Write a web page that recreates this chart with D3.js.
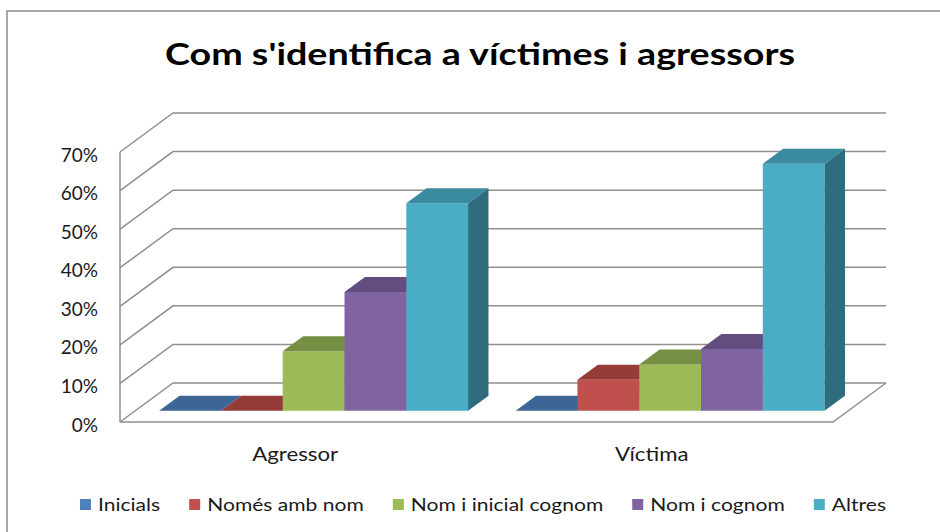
<!DOCTYPE html>
<html>
<head>
<meta charset="utf-8">
<script src="https://cdn.jsdelivr.net/npm/d3@7"></script>
<style>
  body { margin: 0; background: #fff; }
  text { font-family: Lato, "Liberation Sans", sans-serif; fill: #1a1a1a; }
</style>
</head>
<body>
<div id="chart"></div>
<script>
var categories = ["Agressor", "Víctima"];
var seriesNames = ["Inicials", "Només amb nom", "Nom i inicial cognom", "Nom i cognom", "Altres"];
var agressorValues = [0, 0, 0.154, 0.308, 0.538];
var victimaValues = [0, 0.08, 0.12, 0.16, 0.64];
var tickValues = [0, 0.1, 0.2, 0.3, 0.4, 0.5, 0.6, 0.7];
var titleText = "Com s'identifica a víctimes i agressors";

var frontColors = ["#4f81bd", "#c0504d", "#9bbb59", "#8064a2", "#4bacc6"];
var topColors = ["#3d6596", "#953b38", "#778f44", "#634d7e", "#3a8aa0"];
var sideColors = ["#33557e", "#7d312f", "#647838", "#53406a", "#2f6c7e"];

var width = 940, height = 532;
// 3d box: depth offset of the back wall relative to the front edge
var depth = { dx: 53, dy: -39 };
var barFront = 0.29, barBack = 0.675;
var textStretch = 1.17;

var svg = d3.select("#chart").append("svg")
    .attr("width", width)
    .attr("height", height);

var x0 = d3.scaleBand().domain(categories).range([120, 833]);
var x1 = d3.scaleBand().domain(seriesNames)
    .range([0, x0.bandwidth()])
    .paddingOuter(0.385)
    .paddingInner(0);
var y = d3.scaleLinear().domain([0, 0.7]).range([422, 152]);
var fmt = d3.format(".0%");

function pt(x, v, f) {
    return (x + f * depth.dx) + "," + (y(v) + f * depth.dy);
}

// chart border
svg.append("path")
    .attr("d", "M7," + height + "V11H" + width)
    .attr("fill", "none")
    .attr("stroke", "#8a8a8a")
    .attr("stroke-width", 1.5);

// title
svg.append("text")
    .attr("x", 480)
    .attr("y", 65)
    .attr("text-anchor", "middle")
    .style("font-size", "31px")
    .style("font-weight", "bold")
    .style("fill", "#000")
    .attr("textLength", 630)
    .attr("lengthAdjust", "spacingAndGlyphs")
    .text(titleText);

var xLeft = x0.range()[0], xRight = x0.range()[1];
var grid = svg.append("g")
    .attr("fill", "none")
    .attr("stroke", "#8f8f8f")
    .attr("stroke-width", 1.5);

// gridlines on the side wall and back wall
grid.selectAll(".grid")
    .data(tickValues).enter().append("polyline")
    .attr("class", "grid")
    .attr("points", function(d) {
        return pt(xLeft, d, 0) + " " + pt(xLeft, d, 1) + " " + pt(xRight, d, 1);
    });
// front left edge
grid.append("line")
    .attr("x1", xLeft).attr("y1", y(0))
    .attr("x2", xLeft).attr("y2", y(0.7));
// floor front and right edges
grid.append("polyline")
    .attr("points", pt(xLeft, 0, 0) + " " + pt(xRight, 0, 0) + " " + pt(xRight, 0, 1));

// y tick labels
svg.selectAll(".ytick")
    .data(tickValues).enter().append("text")
    .attr("class", "ytick")
    .attr("x", 98)
    .attr("y", function(d) { return y(d) + 9.5; })
    .attr("text-anchor", "end")
    .style("font-size", "19px")
    .text(function(d) { return fmt(d); });

// bars
var rows = [agressorValues, victimaValues];
var bars = [];
categories.forEach(function(c, ci) {
    seriesNames.forEach(function(s, si) {
        bars.push({ cat: c, series: s, index: si, value: rows[ci][si] });
    });
});

var barG = svg.selectAll(".bar")
    .data(bars).enter().append("g")
    .attr("class", "bar");

barG.each(function(d) {
    var g = d3.select(this);
    var xa = x0(d.cat) + x1(d.series);
    var xb = xa + x1.bandwidth();
    var v = d.value;
    if (v > 0) {
        g.append("polygon")
            .attr("points", [pt(xa, 0, barFront), pt(xb, 0, barFront), pt(xb, v, barFront), pt(xa, v, barFront)].join(" "))
            .attr("fill", frontColors[d.index]);
        g.append("polygon")
            .attr("points", [pt(xb, 0, barFront), pt(xb, 0, barBack), pt(xb, v, barBack), pt(xb, v, barFront)].join(" "))
            .attr("fill", sideColors[d.index]);
    }
    g.append("polygon")
        .attr("points", [pt(xa, v, barFront), pt(xb, v, barFront), pt(xb, v, barBack), pt(xa, v, barBack)].join(" "))
        .attr("fill", topColors[d.index]);
});

// category labels
svg.selectAll(".xlabel")
    .data(categories).enter().append("text")
    .attr("class", "xlabel")
    .attr("x", function(d) { return x0(d) + x0.bandwidth() / 2 - 3; })
    .attr("y", 461)
    .attr("text-anchor", "middle")
    .style("font-size", "19px")
    .text(function(d) { return d; })
    .each(function() {
        var w = this.getComputedTextLength();
        d3.select(this).attr("textLength", w * textStretch).attr("lengthAdjust", "spacingAndGlyphs");
    });

// legend
var legend = svg.append("g").attr("class", "legend");
var items = legend.selectAll(".item")
    .data(seriesNames).enter().append("g")
    .attr("class", "item");
items.append("rect")
    .attr("width", 11)
    .attr("height", 11)
    .attr("y", 499)
    .attr("fill", function(d, i) { return frontColors[i]; });
items.append("text")
    .attr("y", 511)
    .style("font-size", "18px")
    .text(function(d) { return d; })
    .each(function() {
        var w = this.getComputedTextLength() * textStretch;
        d3.select(this).attr("textLength", w).attr("lengthAdjust", "spacingAndGlyphs");
        this.__w = w;
    });
var total = 0, offsets = [];
items.each(function() {
    offsets.push(total);
    total += 11 + 7 + d3.select(this).select("text").node().__w + 29;
});
total -= 29;
var startX = 483 - total / 2;
items.each(function(d, i) {
    var g = d3.select(this);
    var x = startX + offsets[i];
    g.select("rect").attr("x", x);
    g.select("text").attr("x", x + 18);
});
</script>
</body>
</html>
